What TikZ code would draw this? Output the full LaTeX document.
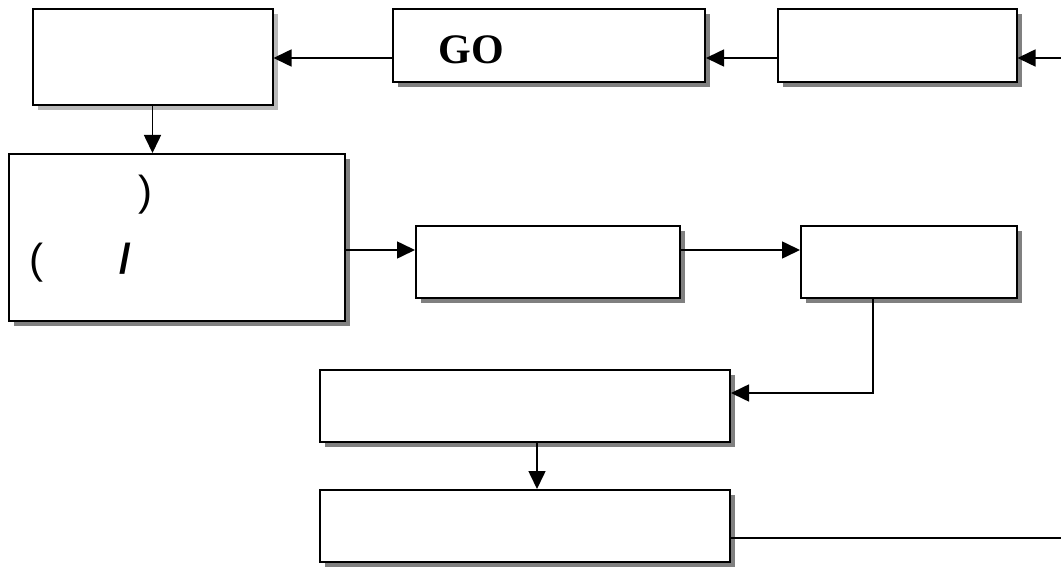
\documentclass[tikz,border=0pt]{standalone}
\usepackage{fontspec}
\setmainfont{Liberation Serif}
\newfontfamily\arialf{Liberation Sans}
\usetikzlibrary{arrows.meta,shadows}
\tikzset{
  box/.style={draw=black, line width=2pt, fill=white, inner sep=0pt,
    drop shadow={shadow xshift=5pt, shadow yshift=-5pt, fill=gray, opacity=1}},
  boxlight/.style={draw=black, line width=2pt, fill=white, inner sep=0pt,
    drop shadow={shadow xshift=5pt, shadow yshift=-5pt, fill=gray!55, opacity=1}},
  conn/.style={draw=black, line width=1.6pt},
  arr/.style={conn, -{Triangle[length=18pt,width=17pt]}},
  lbl/.style={inner sep=0pt, anchor=base west}
}
\begin{document}
\begin{tikzpicture}[x=1pt,y=-1pt]
\useasboundingbox[fill=white] (0,0) rectangle (1061,567);
% boxes
\node[boxlight, minimum width=240pt, minimum height=96pt] (a) at (152.5,57.5) {};
\node[box, minimum width=312pt, minimum height=73pt] (go) at (549,45.5) {};
\node[box, minimum width=239pt, minimum height=73pt] (c) at (897,45.5) {};
\node[box, minimum width=336pt, minimum height=167pt] (d) at (176.5,237.5) {};
\node[box, minimum width=264pt, minimum height=72pt] (e) at (548,262) {};
\node[box, minimum width=216pt, minimum height=72pt] (f) at (909,262) {};
\node[box, minimum width=410pt, minimum height=72pt] (g) at (525,406) {};
\node[box, minimum width=410pt, minimum height=72pt] (h) at (525,526) {};
% texts
\node[lbl, font=\bfseries\fontsize{42}{50}\selectfont] (tgo) at (438.7,64) {GO};
\node[lbl, font=\arialf\fontsize{42}{50}\selectfont] (t1) at (138.5,206) {)};
\node[lbl, font=\arialf\fontsize{42}{50}\selectfont] (t2) at (29,273) {(};
\node[lbl, font=\arialf\bfseries\fontsize{42}{50}\selectfont] (t3) at (119,273) {/};
% connectors
\coordinate (inC) at (1061,58);
\draw[arr] (inC) -- (inC -| c.east);
\draw[arr] (c.west |- inC) -- (go.east |- inC);
\draw[arr] (go.west |- inC) -- (a.east |- inC);
\draw[arr] (a.south) -- (a.south |- d.north);
\coordinate (yde) at (0,250);
\draw[arr] (d.east |- yde) -- (e.west |- yde);
\draw[arr] (e.east |- yde) -- (f.west |- yde);
\coordinate (fx) at (873,393);
\draw[arr] (f.south -| fx) -- (fx) -- (g.east |- fx);
\coordinate (gx) at (537,0);
\draw[arr] (g.south -| gx) -- (h.north -| gx);
\coordinate (outH) at (1061,538);
\draw[conn] (h.east |- outH) -- (outH);
\end{tikzpicture}
\end{document}
